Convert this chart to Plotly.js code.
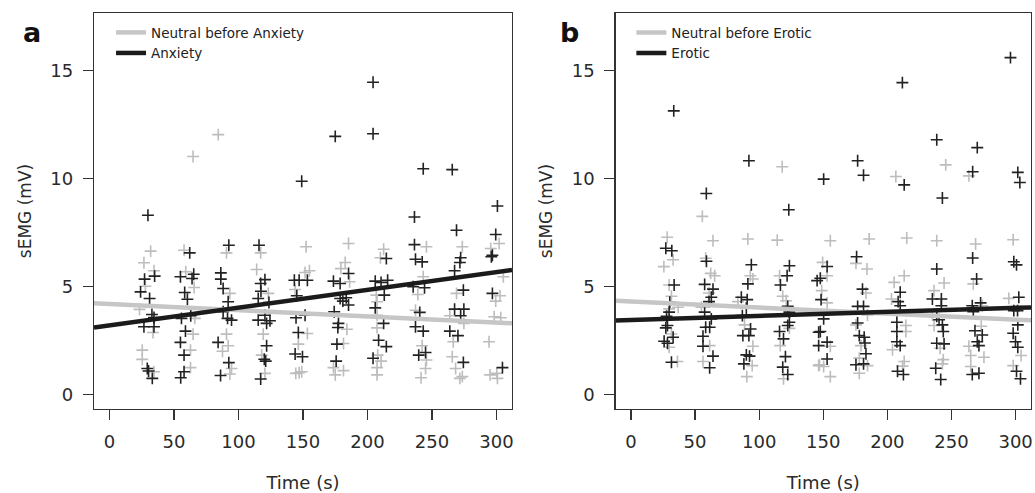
<!DOCTYPE html>
<html><head><meta charset="utf-8">
<script src="https://cdn.plot.ly/plotly-3.0.1.min.js"></script>
<style>html,body{margin:0;padding:0;background:#fff}</style>
</head><body><div id="chart" style="width:1035px;height:493px"></div>
<script>
// ---------- Panel a : Neutral before Anxiety (gray) ----------
const aNeutralX = [84.3,64.8,31.9,57.8,90.7,117.2,26.7,34.5,59.1,114.1,65.6,27.8,123.1,93.3,143.9,23.3,33.7,66.1,64.8,90.7,119.2,146.4,87.6,92,25.4,25.4,62.8,118,94.6,62.8,34.5,93.3,120.5,144.4,147,
152.4,185.3,212.5,245.7,273.5,295.5,302,182.7,179.4,210,155,151.6,186.1,243.2,305.3,269,302.7,206.8,239,207.4,299.4,237.2,207.4,263.8,298.2,303.3,274.7,184,207.4,153.4,266.5,294.2,181.4,242.3,245.7,207.9,210.5,265.7,268.3,273.5,271.6,245,241.5,207.4,207.4,173.6,175,181.4,295,300.2,300.7,149];
const aNeutralY = [12.04,11.03,6.64,6.68,6.56,6.56,6.10,5.73,5.68,5.79,4.95,5.01,4.68,4.68,4.86,3.94,2.87,3.52,2.79,2.79,2.79,2.33,2.00,2.25,2.05,1.62,2.05,1.82,1.20,1.24,1.05,0.94,0.97,0.97,1.00,
6.84,6.99,6.73,6.84,6.84,6.76,6.99,6.11,5.83,6.33,5.73,5.65,5.22,5.45,5.45,4.68,4.57,4.60,4.63,4.29,4.32,3.90,3.67,3.64,3.60,3.55,3.29,3.02,3.08,2.82,2.44,2.44,2.36,2.25,1.59,1.82,1.54,1.74,1.20,0.82,0.74,1.20,0.77,1.24,0.90,1.24,0.90,1.10,0.90,0.97,0.74,1.05];
// ---------- Panel a : Anxiety (dark) ----------
const aAnxietyX = [29.8,149,204.3,175,204.3,243.2,265.7,300.7,236.4,
92.5,115.9,62.2,86.3,35,27.2,55,65.3,64,86.3,120.5,117.2,143.3,147,88.1,24.1,58.3,117.4,31.1,60.4,92,115.3,123.6,145.2,88.1,120.5,32.9,34.5,55.8,63,91.5,94.6,115.3,124.4,144.6,26.7,34.5,58.9,121.8,146.4,55,84.2,121.8,57.8,143.9,149.6,120,121.1,92.5,29.3,30.3,33.2,57.8,55.2,86.1,117.2,
269,299.4,236.4,214.6,237.2,242.4,272.2,271.6,296.8,296,267.5,153.4,185.3,173.6,178.8,206,210.5,215.6,235.4,244.2,274.3,296.8,213,178.8,183.5,185.3,180.9,206,240.5,267.5,274.7,151.6,174.2,272.2,212.5,177.5,177,237.2,243.2,263.8,270.1,176.3,208.6,214.6,239.7,245,204.3,175.7,274.3,304.6];
const aAnxietyY = [8.3,9.88,14.47,11.96,12.08,10.46,10.42,8.73,8.22,
6.91,6.91,6.56,5.63,5.48,5.34,5.45,5.57,5.37,5.34,5.32,5.14,5.29,5.29,4.91,4.75,4.72,4.78,4.44,4.41,4.29,4.44,4.26,4.57,3.83,3.67,3.70,3.56,3.52,3.64,3.52,3.44,3.44,3.41,3.55,3.13,3.13,2.93,3.29,2.87,2.41,2.41,2.25,1.82,1.87,1.74,1.63,1.54,1.47,1.20,1.08,0.74,1.05,0.77,0.87,0.71,
7.61,7.41,6.94,6.30,6.26,6.14,6.33,6.11,6.45,6.38,5.73,5.29,5.60,5.25,5.14,5.25,5.19,5.29,4.99,4.94,4.83,4.68,4.60,4.44,4.48,4.14,4.32,4.01,3.80,3.95,3.95,3.67,3.83,3.64,3.29,3.29,3.10,3.13,2.93,2.93,2.72,2.33,2.51,2.21,1.82,1.94,1.67,1.54,1.48,1.24];
// ---------- Panel b : Neutral before Erotic (gray) ----------
const bNeutralX = [118,55.7,206.6,245.5,263.6,
28.3,64,91.2,114.1,32.9,25.7,58.3,115.9,62.2,65.3,93.1,95.1,29.8,31.6,60.9,118.4,121.1,36.8,55,83.4,29.8,123.6,88.6,31.6,29.8,61.4,95.1,116.4,36.3,56.2,94.6,119,90.4,146.4,
155.5,185.8,215.1,238.5,268.8,298.1,175.5,184.1,149.5,153,213.1,205.3,267,244.2,148.8,183.3,236.4,153,203.2,294.7,274,184.5,235.1,236.4,214.4,175.5,273.2,214.4,155.5,179.4,204,241.1,263.6,304.3,265,275.3,178.1,147,150.3,155.5,184.5,178.1,213.1,211.8,243.6,242.9,265,298.1];
const bNeutralY = [10.55,8.25,10.1,10.64,10.13,
7.28,7.12,7.2,7.15,6.24,5.92,6.31,5.5,5.61,5.5,5.5,5.35,5.07,4.55,4.7,4.55,4.34,4.04,4.04,4.3,3.96,3.06,3.22,2.8,2.18,2.26,2.23,2.26,1.52,1.52,1.33,0.72,0.82,1.33,
7.12,7.2,7.25,7.12,6.97,7.17,6.07,5.81,6.12,5.5,5.5,5.19,5.12,5.16,4.81,4.7,4.81,4.24,4.42,4.45,4.11,3.68,3.68,3.19,3.19,3.22,3.16,2.91,2.23,2.26,2.07,2.14,2.23,1.8,1.8,1.72,1.68,1.37,1.29,0.82,1.33,0.98,1.52,1.31,1.61,1.41,1.29,1.33];
// ---------- Panel b : Erotic (dark) ----------
const bEroticX = [33.4,92,58.8,123.1,296,211.7,238.5,270.1,176.8,181.4,213.1,266.5,242.9,301.7,303.3,150.3,
27.2,31.9,58.9,93.9,123.6,121.8,33.7,57.5,64,91.2,116.6,145.2,62.7,86.1,90.7,30.3,60.9,90,122.3,123.6,29.8,27.8,57.5,62.7,86.9,123.6,122.3,27.2,28.5,58.3,61.4,93.3,32.9,56.2,87.3,92,115.9,119,25.9,28.5,56.2,90,92.5,120.5,64,31.6,61.4,88.1,118.4,122.3,146.4,146.4,
176,266.5,238.5,298.6,300.7,153,147.7,269.6,180.6,210,148.3,235.1,242.1,208.4,302.5,272.7,266.2,176.8,181.4,210,242.1,298.6,301.5,267,238.5,150.3,240.3,176.8,207.4,242.9,301.7,147.7,207.4,243.6,268.3,274,298.1,178.1,181.9,153,182.5,207.4,210,238.5,244.2,270.1,271.4,299.9,301.7,183.3,153,175.5,181.4,207.9,212.5,237.7,241.6,266.2,271.4,300.7,303.8];
const bEroticY = [13.14,10.83,9.31,8.56,15.61,14.45,11.8,11.44,10.83,10.16,9.71,10.32,9.1,10.29,9.82,9.98,
6.77,6.66,6.17,6.01,5.96,5.5,5.07,5.1,4.88,5.12,5.07,5.27,4.5,4.5,4.39,4.27,4.3,3.99,4.08,3.81,3.81,3.62,3.81,3.5,3.65,3.34,3.19,3.08,3.19,3.11,3.11,3.03,2.65,2.69,2.72,2.72,2.91,2.57,2.46,2.37,2.23,1.83,1.77,1.75,1.77,1.49,1.23,1.41,1.26,0.92,2.88,2.26,
6.38,6.32,5.81,6.15,6.0,5.93,5.38,5.35,4.88,4.73,4.39,4.42,4.42,4.3,4.5,4.24,4.11,4.08,4.08,4.11,4.11,3.88,3.88,3.83,3.62,3.5,3.46,3.31,3.34,3.22,3.22,2.91,2.91,2.91,2.95,2.75,2.83,2.72,2.65,2.42,2.38,2.44,2.26,2.37,2.34,2.44,2.26,2.44,2.18,1.88,1.64,1.37,1.41,1.07,0.92,1.21,0.69,0.92,0.98,1.07,0.72];
// ---------- Fitted regression lines (intercept, slope) ----------
const fitNames = ["Neutral before Anxiety","Anxiety","Neutral before Erotic","Erotic"];
const fitIntercept = [4.19, 3.20, 4.30, 3.45];
const fitSlope = [-0.00287, 0.00823, -0.00279, 0.00186];
const xTicks = [0,50,100,150,200,250,300];
const yTicks = [0,5,10,15];
const xRange = [-12, 312];
const yRange = [-0.68, 17.68];

const GRAY = '#bdbdbd', DARK = '#222222', LGRAY = '#c6c6c6', LDARK = '#1b1b1b';
function pts(x, y, col, xa, ya){
  return {type:'scatter', mode:'markers', x:x, y:y, xaxis:xa, yaxis:ya, showlegend:false, hoverinfo:'skip',
    marker:{symbol:'cross-thin', size:8.5, color:col, line:{color:col, width:1.6}}, cliponaxis:true};
}
function fit(i, col, xa, ya, lg){
  const xs = [xRange[0], xRange[1]];
  return {type:'scatter', mode:'lines', name:fitNames[i], x:xs, y:xs.map(v=>fitIntercept[i]+fitSlope[i]*v),
    xaxis:xa, yaxis:ya, legend:lg, line:{color:col, width:4.5}, hoverinfo:'skip'};
}
const data = [
  pts(aNeutralX, aNeutralY, GRAY, 'x','y'),
  pts(aAnxietyX, aAnxietyY, DARK, 'x','y'),
  fit(0, LGRAY, 'x','y','legend'),
  fit(1, LDARK, 'x','y','legend'),
  pts(bNeutralX, bNeutralY, GRAY, 'x2','y2'),
  pts(bEroticX, bEroticY, DARK, 'x2','y2'),
  fit(2, LGRAY, 'x2','y2','legend2'),
  fit(3, LDARK, 'x2','y2','legend2')
];
const tickFont = {family:'DejaVu Sans', size:18, color:'#2a2a2a'};
function xax(dom, anchor){
  return {domain:dom, anchor:anchor, range:xRange, tickvals:xTicks, ticks:'outside', ticklen:10, tickwidth:1.2, tickcolor:'#333',
    showline:true, mirror:true, linecolor:'#333', linewidth:1.3, showgrid:false, zeroline:false, tickfont:tickFont,
    ticklabelstandoff:6, title:{text:'Time (s)', font:{family:'DejaVu Sans', size:18, color:'#2a2a2a'}, standoff:25}};
}
function yax(anchor){
  return {domain:[0,1], anchor:anchor, range:yRange, tickvals:yTicks, ticks:'outside', ticklen:10, tickwidth:1.2, tickcolor:'#333',
    showline:true, mirror:true, linecolor:'#333', linewidth:1.3, showgrid:false, zeroline:false, tickfont:tickFont,
    ticklabelstandoff:6, title:{text:'sEMG (mV)', font:{family:'DejaVu Sans', size:17, color:'#2a2a2a'}, standoff:14}};
}
const legFont = {family:'DejaVu Sans', size:13.5, color:'#222'};
const layout = {
  width:1035, height:493, margin:{l:94, r:4, t:13, b:84}, paper_bgcolor:'#fff', plot_bgcolor:'#fff',
  showlegend:true,
  xaxis: xax([0,0.4461],'y'), yaxis: yax('x'),
  xaxis2: xax([0.5566,1],'y2'), yaxis2: yax('x2'),
  legend:{x:0.0182, y:0.9896, xanchor:'left', yanchor:'top', bgcolor:'rgba(0,0,0,0)', font:legFont, tracegroupgap:0, itemwidth:30},
  legend2:{x:0.5735, y:0.9896, xanchor:'left', yanchor:'top', bgcolor:'rgba(0,0,0,0)', font:legFont, tracegroupgap:0, itemwidth:30},
  annotations:[
    {text:'<b>a</b>', xref:'paper', yref:'paper', x:-0.0662, y:0.9495, xanchor:'center', yanchor:'middle', showarrow:false, font:{family:'DejaVu Sans', size:27, color:'#111'}},
    {text:'<b>b</b>', xref:'paper', yref:'paper', x:0.508, y:0.9495, xanchor:'center', yanchor:'middle', showarrow:false, font:{family:'DejaVu Sans', size:27, color:'#111'}}
  ]
};
Plotly.newPlot('chart', data, layout, {staticPlot:true, displayModeBar:false});
</script></body></html>
